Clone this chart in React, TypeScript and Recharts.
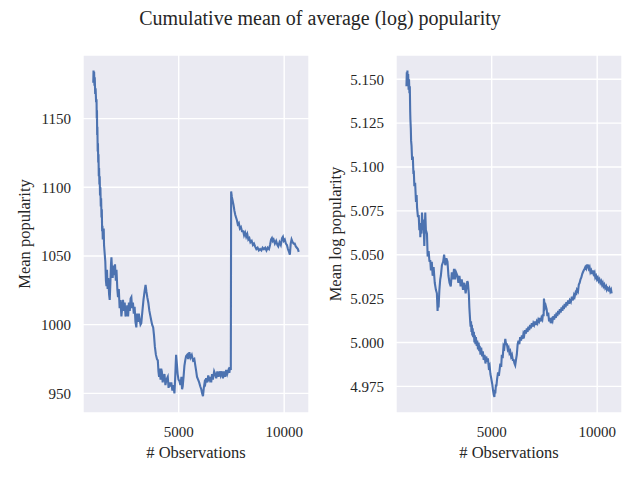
import React from 'react';
import { LineChart, Line, XAxis, YAxis, CartesianGrid } from 'recharts';

// left panel: cumulative mean popularity
const leftObs = [
  950, 962, 975, 990, 1005, 1020, 1040, 1060, 1085, 1105, 1115, 1125, 1135, 1145, 1160, 1172, 1185, 1198,
  1212, 1226, 1240, 1255, 1270, 1288, 1306, 1322, 1340, 1355, 1370, 1385, 1400, 1415, 1430, 1445, 1460,
  1490, 1520, 1550, 1575, 1600, 1630, 1660, 1700, 1730, 1760, 1790, 1811,
  1840, 1870, 1900, 1940, 1980, 2020, 2050, 2090, 2123, 2160, 2200, 2240, 2283, 2320, 2358, 2400, 2440,
  2480, 2519, 2560, 2600, 2640, 2680, 2720, 2755, 2790, 2830, 2870, 2910, 2950, 2991, 3030, 3070, 3110,
  3146, 3190, 3226, 3280, 3330, 3380, 3429, 3470, 3510, 3560, 3610, 3660, 3698, 3740, 3790, 3830, 3870,
  3920, 3970, 4009, 4040, 4070, 4100, 4140, 4170, 4200, 4240, 4280, 4325, 4370, 4420, 4481, 4520, 4570,
  4608, 4650, 4700, 4750, 4797, 4830, 4860, 4877, 4910, 4950, 4990, 5033, 5080, 5130, 5160, 5189, 5230,
  5270, 5310, 5349, 5400, 5450, 5505, 5560, 5620, 5680, 5741, 5790, 5830, 5868, 5920, 5970, 6024, 6070,
  6110, 6151, 6190, 6230, 6259, 6300, 6350, 6400, 6450, 6495, 6540, 6580, 6620, 6680, 6731, 6780, 6830,
  6887, 6940, 6990, 7047, 7100, 7150, 7203, 7250, 7300, 7359, 7400, 7439, 7470, 7486, 7520, 7560, 7600,
  7640, 7680, 7720, 7760, 7800, 7850, 7900, 7950, 8000, 8060, 8100, 8150, 8200, 8250, 8300, 8350, 8400,
  8460, 8520, 8570, 8620, 8680, 8740, 8800, 8860, 8920, 8980, 9040, 9100, 9160, 9220, 9280, 9330, 9380,
  9420, 9460, 9500, 9560, 9620, 9680, 9720, 9780, 9840, 9900, 9940, 9980, 10030, 10080, 10130, 10180,
  10230, 10270, 10310, 10350, 10400, 10450, 10500, 10550, 10600, 10650, 10690,
];
const leftMean = [
  1176, 1185, 1180, 1184, 1174, 1180, 1168, 1172, 1162, 1164, 1150, 1156, 1138, 1144, 1126, 1132, 1118, 1124,
  1108, 1114, 1102, 1108, 1094, 1100, 1086, 1092, 1078, 1084, 1068, 1072, 1062, 1068, 1064, 1070, 1058,
  1052, 1046, 1032, 1028, 1040, 1026, 1034, 1022, 1018, 1030, 1044, 1049,
  1040, 1034, 1043, 1036, 1044, 1032, 1040, 1026, 1020, 1026, 1012, 1018, 1006, 1012, 1018, 1010, 1016,
  1006, 1008, 1014, 1006, 1016, 1010, 1019, 1020, 1012, 1016, 1008, 1013, 1002, 998, 1008, 1002, 1008,
  1004, 1000, 1001, 1010, 1018, 1024, 1029, 1024, 1020, 1016, 1010, 1006, 1003, 1000, 998, 992, 984,
  978, 975, 974, 966, 962, 968, 960, 968, 966, 958, 962, 964, 956, 960, 962, 954, 958,
  955, 958, 952, 956, 950, 960, 972, 978, 972, 964, 960, 959, 956, 962, 953, 955, 962,
  970, 974, 977, 978, 975, 980, 976, 978, 974, 975, 970, 966, 962, 960, 958, 955, 953,
  950, 948, 954, 958, 957, 961, 958, 963, 960, 962, 958, 964, 960, 966, 964, 961, 966,
  962, 966, 963, 966, 961, 966, 962, 967, 964, 967, 965, 969, 967, 1097, 1093, 1090, 1087,
  1083, 1080, 1078, 1076, 1073, 1074, 1070, 1071, 1068, 1068, 1065, 1067, 1064, 1066, 1062, 1063, 1060,
  1061, 1058, 1059, 1057, 1055, 1056, 1054, 1055, 1054, 1056, 1055, 1056, 1054, 1056, 1055, 1058, 1062,
  1063, 1061, 1062, 1059, 1061, 1058, 1057, 1060, 1058, 1063, 1064, 1061, 1062, 1059, 1058, 1055,
  1053, 1051, 1059, 1062, 1060, 1059, 1059, 1057, 1056, 1055, 1053,
];

// right panel: cumulative mean log popularity
const rightObs = [
  958, 975, 990, 1005, 1020, 1040, 1060, 1080, 1100, 1118, 1135, 1146, 1165, 1179, 1200, 1226, 1260, 1290,
  1306, 1334, 1370, 1410, 1440, 1461, 1500, 1541, 1570, 1600, 1616, 1640, 1670, 1696, 1730, 1770, 1804,
  1830, 1851, 1880, 1931, 1964, 2011, 2050, 2086, 2119, 2160, 2200, 2246, 2300, 2354, 2401, 2434, 2460,
  2481, 2520, 2560, 2589, 2640, 2700, 2744, 2800, 2850, 2904, 2950, 3000, 3059, 3110, 3160, 3214, 3260,
  3310, 3374, 3420, 3470, 3529, 3580, 3640, 3700, 3764, 3810, 3844, 3872, 3919, 3940, 3960, 3980, 3999,
  4020, 4040, 4060, 4079, 4100, 4120, 4154, 4180, 4200, 4230, 4250, 4290, 4314, 4350, 4380, 4410, 4430,
  4469, 4500, 4549, 4580, 4620, 4660, 4704, 4740, 4784, 4820, 4859, 4900, 4939, 4970, 5000, 5030, 5060,
  5100, 5127, 5150, 5170, 5200, 5220, 5254, 5300, 5340, 5409, 5450, 5480, 5520, 5560, 5600, 5644, 5680,
  5720, 5760, 5799, 5840, 5879, 5920, 5959, 6000, 6040, 6080, 6114, 6150, 6190, 6230, 6269, 6310, 6349,
  6390, 6430, 6470, 6504, 6540, 6580, 6620, 6664, 6700, 6739, 6780, 6819, 6860, 6900, 6940, 6974, 7010,
  7050, 7090, 7134, 7170, 7210, 7250, 7289, 7330, 7360, 7400, 7430, 7460, 7477, 7500, 7530, 7560, 7604,
  7640, 7680, 7720, 7759, 7800, 7839, 7880, 7920, 7960, 8000, 8040, 8074, 8110, 8150, 8190, 8230, 8270,
  8310, 8350, 8384, 8420, 8460, 8500, 8540, 8580, 8620, 8660, 8699, 8750, 8800, 8850, 8900, 8934, 8970,
  9000, 9040, 9089, 9130, 9169, 9210, 9249, 9290, 9324, 9360, 9404, 9440, 9480, 9520, 9559, 9600, 9640,
  9680, 9719, 9760, 9794, 9830, 9874, 9910, 9950, 9990, 10030, 10070, 10109, 10150, 10190, 10230, 10264,
  10300, 10340, 10380, 10424, 10460, 10499, 10540, 10580, 10620, 10659, 10687,
];
const rightLogMean = [
  5.146, 5.154, 5.15, 5.155, 5.146, 5.153, 5.144, 5.15, 5.142, 5.146, 5.132, 5.127, 5.122, 5.115, 5.112, 5.104, 5.106, 5.096,
  5.098, 5.089, 5.091, 5.08, 5.084, 5.077, 5.072, 5.072, 5.064, 5.068, 5.06, 5.066, 5.062, 5.074, 5.064, 5.07, 5.055,
  5.066, 5.074, 5.064, 5.062, 5.049, 5.052, 5.046, 5.047, 5.041, 5.046, 5.038, 5.043, 5.034, 5.03, 5.028, 5.018, 5.024,
  5.02, 5.03, 5.036, 5.038, 5.044, 5.046, 5.05, 5.044, 5.048, 5.046, 5.038, 5.034, 5.032, 5.04, 5.036, 5.042, 5.036,
  5.04, 5.038, 5.034, 5.038, 5.032, 5.036, 5.03, 5.034, 5.028, 5.032, 5.035, 5.034, 5.027, 5.02, 5.016, 5.012, 5.009,
  5.012, 5.006, 5.01, 5.004, 5.008, 5.003, 5.006, 5.0, 5.004, 4.999, 5.003, 4.998, 5.001, 4.996, 5.0, 4.995, 4.998,
  4.993, 4.997, 4.992, 4.995, 4.99, 4.993, 4.988, 4.992, 4.989, 4.991, 4.986, 4.987, 4.982, 4.98, 4.978, 4.976, 4.973,
  4.97, 4.969, 4.973, 4.971, 4.976, 4.975, 4.979, 4.983, 4.981, 4.988, 4.986, 4.993, 4.991, 4.998, 4.997, 5.002, 4.999,
  4.999, 4.996, 4.997, 4.994, 4.995, 4.992, 4.993, 4.99, 4.99, 4.988, 4.987, 4.99, 4.993, 4.999, 5.001, 4.999, 5.003,
  5.001, 5.004, 5.002, 5.005, 5.004, 5.007, 5.005, 5.008, 5.006, 5.009, 5.007, 5.01, 5.008, 5.011, 5.009, 5.011, 5.01,
  5.012, 5.01, 5.012, 5.011, 5.013, 5.012, 5.014, 5.012, 5.014, 5.013, 5.016, 5.015, 5.025, 5.022, 5.02, 5.021, 5.019,
  5.015, 5.017, 5.012, 5.014, 5.011, 5.013, 5.012, 5.015, 5.013, 5.016, 5.014, 5.017, 5.015, 5.018, 5.016, 5.019, 5.017,
  5.02, 5.018, 5.021, 5.019, 5.022, 5.02, 5.023, 5.021, 5.024, 5.022, 5.024, 5.023, 5.026, 5.024, 5.027, 5.026, 5.028,
  5.027, 5.03, 5.029, 5.033, 5.034, 5.036, 5.037, 5.039, 5.04, 5.041, 5.042, 5.043, 5.042, 5.044, 5.044, 5.042, 5.043,
  5.04, 5.041, 5.039, 5.041, 5.039, 5.04, 5.037, 5.038, 5.036, 5.037, 5.035, 5.036, 5.034, 5.035, 5.033, 5.034,
  5.032, 5.033, 5.031, 5.032, 5.03, 5.031, 5.03, 5.031, 5.029, 5.03, 5.028,
];

const xTicks = [5000, 10000];
const leftYTicks = [950, 1000, 1050, 1100, 1150];
const rightYTicks = [4.975, 5.0, 5.025, 5.05, 5.075, 5.1, 5.125, 5.15];

const leftData = leftObs.map((obs, i) => ({ obs, value: leftMean[i] }));
const rightData = rightObs.map((obs, i) => ({ obs, value: rightLogMean[i] }));

const FONT = "'Liberation Serif', 'Times New Roman', serif";
const TEXT = '#262626';
const LINE = '#4C72B0';

// force the serif face on every svg text, ticks included
const css = `.recharts-wrapper text, .recharts-surface text, svg text { font-family: 'Liberation Serif', 'Times New Roman', serif !important; }`;

const XTick = ({ x, y, payload }: any) => (
  <text x={x} y={y} dy="0.71em" textAnchor="middle" style={{ fontFamily: FONT }} fontSize={15} fill={TEXT}>
    {payload.value}
  </text>
);
const makeYTick = (fmt: (v: number) => string) => ({ x, y, payload }: any) => (
  <text x={x} y={y} dy="0.355em" textAnchor="end" style={{ fontFamily: FONT }} fontSize={15} fill={TEXT}>
    {fmt(payload.value)}
  </text>
);

const Panel = ({ data, yDomain, yTicks, yWidth, right, fmt }: any) => (
  <LineChart width={320} height={480} data={data} margin={{ top: 55, right, bottom: 0, left: 0 }}>
    <CartesianGrid fill="#EAEAF2" fillOpacity={1} stroke="#ffffff" strokeWidth={1.4} />
    <XAxis
      dataKey="obs"
      type="number"
      domain={[463, 11177]}
      ticks={xTicks}
      allowDataOverflow
      axisLine={false}
      tickLine={false}
      tickSize={0}
      tickMargin={13}
      height={67}
      tick={XTick}
    />
    <YAxis
      type="number"
      domain={yDomain}
      ticks={yTicks}
      allowDataOverflow
      axisLine={false}
      tickLine={false}
      tickSize={0}
      tickMargin={12}
      width={yWidth}
      tick={makeYTick(fmt)}
    />
    <Line
      type="linear"
      dataKey="value"
      stroke={LINE}
      strokeWidth={2.1}
      dot={false}
      isAnimationActive={false}
    />
  </LineChart>
);

export default function App() {
  return (
    <div style={{ position: 'absolute', left: 0, top: 0, width: 640, height: 480, background: '#fff', fontFamily: FONT }}>
      <style>{css}</style>
      <div style={{ position: 'absolute', left: 0, top: 0 }}>
        <Panel data={leftData} yDomain={[935.7, 1196.3]} yTicks={leftYTicks} yWidth={83} right={11} fmt={(v: number) => String(v)} />
      </div>
      <div style={{ position: 'absolute', left: 320, top: 0 }}>
        <Panel data={rightData} yDomain={[4.9598, 5.1638]} yTicks={rightYTicks} yWidth={76} right={18} fmt={(v: number) => v.toFixed(3)} />
      </div>
      <svg width={640} height={480} style={{ position: 'absolute', left: 0, top: 0, pointerEvents: 'none' }}>
        <g fontFamily={FONT} fill={TEXT}>
          <text x={320} y={25} textAnchor="middle" fontSize={20}>Cumulative mean of average (log) popularity</text>
          <text x={196} y={458} textAnchor="middle" fontSize={16.5}># Observations</text>
          <text x={509} y={458} textAnchor="middle" fontSize={16.5}># Observations</text>
          <text transform="translate(30,234) rotate(-90)" textAnchor="middle" fontSize={16.5}>Mean popularity</text>
          <text transform="translate(341,234) rotate(-90)" textAnchor="middle" fontSize={16.5}>Mean log popularity</text>
        </g>
      </svg>
    </div>
  );
}
